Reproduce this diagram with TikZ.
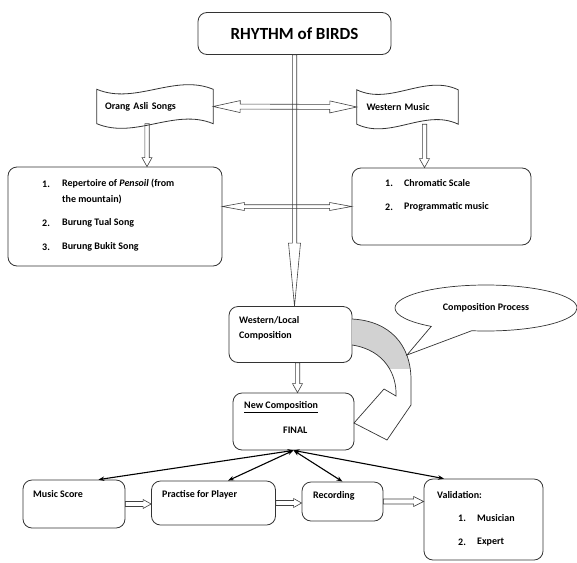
\documentclass[tikz,border=0pt]{standalone}
\usepackage{fontspec}
\setmainfont{Carlito}
\usetikzlibrary{calc,arrows.meta,shapes.callouts}

\tikzset{
  box/.style={draw=black!80, line width=0.8pt, rounded corners=9pt, inner sep=0pt},
  txt/.style={font=\bfseries\fontsize{10}{12}\selectfont, inner sep=0pt, anchor=west},
  link/.style={{Stealth[length=6pt,width=4.5pt]}-{Stealth[length=6pt,width=4.5pt]}, line width=1.1pt},
  hollow/.style n args={3}{draw=black!75, line width=0.6pt, to path={
    ($(\tikztostart)!#3!90:(\tikztotarget)$)
    -- ($($(\tikztotarget)!#1!(\tikztostart)$)!#3!-90:(\tikztostart)$)
    -- ($($(\tikztotarget)!#1!(\tikztostart)$)!#2!-90:(\tikztostart)$)
    -- (\tikztotarget)
    -- ($($(\tikztotarget)!#1!(\tikztostart)$)!#2!90:(\tikztostart)$)
    -- ($($(\tikztotarget)!#1!(\tikztostart)$)!#3!90:(\tikztostart)$)
    -- ($(\tikztostart)!#3!-90:(\tikztotarget)$) -- cycle}},
  hollowboth/.style n args={3}{draw=black!75, line width=0.6pt, to path={
    (\tikztostart)
    -- ($($(\tikztostart)!#1!(\tikztotarget)$)!#2!90:(\tikztotarget)$)
    -- ($($(\tikztostart)!#1!(\tikztotarget)$)!#3!90:(\tikztotarget)$)
    -- ($($(\tikztotarget)!#1!(\tikztostart)$)!#3!-90:(\tikztostart)$)
    -- ($($(\tikztotarget)!#1!(\tikztostart)$)!#2!-90:(\tikztostart)$)
    -- (\tikztotarget)
    -- ($($(\tikztotarget)!#1!(\tikztostart)$)!#2!90:(\tikztostart)$)
    -- ($($(\tikztotarget)!#1!(\tikztostart)$)!#3!90:(\tikztostart)$)
    -- ($($(\tikztostart)!#1!(\tikztotarget)$)!#3!-90:(\tikztotarget)$)
    -- ($($(\tikztostart)!#1!(\tikztotarget)$)!#2!-90:(\tikztotarget)$)
    -- cycle}}
}

\newcommand{\wavebox}[1]{%
  \draw[draw=black!80, line width=0.8pt] (#1.north west)
    .. controls ($(#1.north west)!0.33!(#1.north east)+(0,16)$) and ($(#1.north west)!0.67!(#1.north east)+(0,-16)$) .. (#1.north east)
    -- (#1.south east)
    .. controls ($(#1.south west)!0.67!(#1.south east)+(0,-16)$) and ($(#1.south west)!0.33!(#1.south east)+(0,16)$) .. (#1.south west)
    -- cycle;}

\begin{document}
\begin{tikzpicture}[x=1pt, y=-1pt]
\useasboundingbox (0,0) rectangle (577,562);

% boxes
\node[box, minimum width=193pt, minimum height=42pt, font=\bfseries\fontsize{17}{20}\selectfont] (title) at (294.5,33.5) {RHYTHM of BIRDS};
\node[txt, anchor=center, minimum width=116pt, minimum height=34pt, text width=100pt, align=left] (orang) at (155,106.5) {Orang Asli Songs};
\node[txt, anchor=center, minimum width=101pt, minimum height=34pt, text width=82pt, align=left] (western) at (407.5,107) {Western Music};
\wavebox{orang}
\wavebox{western}
\node[box, minimum width=214pt, minimum height=99pt] (ls) at (115,216.5) {};
\node[box, minimum width=179pt, minimum height=77pt] (rs) at (441.5,206.5) {};
\node[box, minimum width=123pt, minimum height=56pt] (wl) at (290.5,334.5) {};
\node[box, minimum width=121pt, minimum height=57pt] (newc) at (293.5,421.5) {};
\node[box, minimum width=102pt, minimum height=48pt] (score) at (74,504) {};
\node[box, minimum width=124pt, minimum height=44pt] (prac) at (213.5,503) {};
\node[box, minimum width=81pt, minimum height=39pt] (rec) at (342.5,501.5) {};
\node[box, minimum width=119pt, minimum height=81pt] (valid) at (483.5,519.5) {};

% texts
\node[txt] (ls1n) at (42,184) {1.};
\node[txt] (ls1a) at (62,184) {Repertoire of \textit{Pensoil} (from};
\node[txt] (ls1b) at (62,200) {the mountain)};
\node[txt] (ls2n) at (42,223) {2.};
\node[txt] (ls2) at (62,223) {Burung Tual Song};
\node[txt] (ls3n) at (42,247) {3.};
\node[txt] (ls3) at (62,247) {Burung Bukit Song};
\node[txt] (rs1n) at (385,183) {1.};
\node[txt] (rs1) at (404,183) {Chromatic Scale};
\node[txt] (rs2n) at (385,207) {2.};
\node[txt] (rs2) at (404,207) {Programmatic music};
\node[txt] (wla) at (239,320) {Western/Local};
\node[txt] (wlb) at (239,336) {Composition};
\node[txt] (newca) at (244,407) {\underline{New Composition}};
\node[txt] (newcb) at (283,430) {FINAL};
\node[txt] (scoret) at (33,494) {Music Score};
\node[txt] (pract) at (162,495) {Practise for Player};
\node[txt] (rect) at (313,496) {Recording};
\node[txt] (valida) at (437,495) {Validation:};
\node[txt] (valid1n) at (458,518) {1.};
\node[txt] (valid1) at (477,518) {Musician};
\node[txt] (valid2n) at (458,542) {2.};
\node[txt] (valid2) at (477,542) {Expert};

% curved arrow
\begin{scope}
\clip (340,300) rectangle (420,368);
\fill[gray!35] (352,319) .. controls (390,321) and (411,345) .. (411,380) -- (396,396) .. controls (397,375) and (385,350) .. (352,345) -- cycle;
\end{scope}
\draw[draw=black!80, line width=0.7pt] (352,319) .. controls (390,321) and (411,345) .. (411,380) -- (411,405) -- (387,440) -- (354,423) -- (384,389) -- (396,396) .. controls (397,375) and (385,350) .. (352,345);

\node[ellipse callout, draw=black!80, line width=0.7pt, fill=white, callout absolute pointer={(407,355)}, callout pointer arc=28, minimum width=182pt, minimum height=46pt, inner sep=0pt, font=\bfseries\fontsize{10}{12}\selectfont] (proc) at (486,308) {Composition Process};

% connectors
\draw[hollowboth={27pt}{6pt}{2.5pt}] (orang.east) to (western.west);
\draw[hollowboth={22pt}{4pt}{1.8pt}] (ls.east |- rs.west) to (rs.west);
\draw[hollow={63pt}{6pt}{2.2pt}] (title.south) to (title.south |- wl.north);
\draw[hollow={9pt}{5pt}{2.2pt}] ([xshift=-8pt]orang.south) to ([xshift=-8pt]orang.south |- ls.north);
\draw[hollow={9pt}{5pt}{2.2pt}] ([xshift=17pt]western.south) to ([xshift=17pt]western.south |- rs.north);
\draw[hollow={9pt}{5pt}{2.2pt}] ([xshift=7pt]wl.south) to ([xshift=7pt]wl.south |- newc.north);
\draw[hollow={8pt}{4.5pt}{2.5pt}] (score.east) to (score.east -| prac.west);
\draw[hollow={8pt}{4.5pt}{2.5pt}] (prac.east) to (prac.east -| rec.west);
\draw[hollow={10pt}{5pt}{2.5pt}] (rec.east) to (rec.east -| valid.west);

\draw[link] (newc.south) -- (score.45);
\draw[link] (newc.south) -- (prac.57);
\draw[link] (newc.south) -- (rec.north);
\draw[link] (newc.south) -- (valid.134);
\end{tikzpicture}
\end{document}
